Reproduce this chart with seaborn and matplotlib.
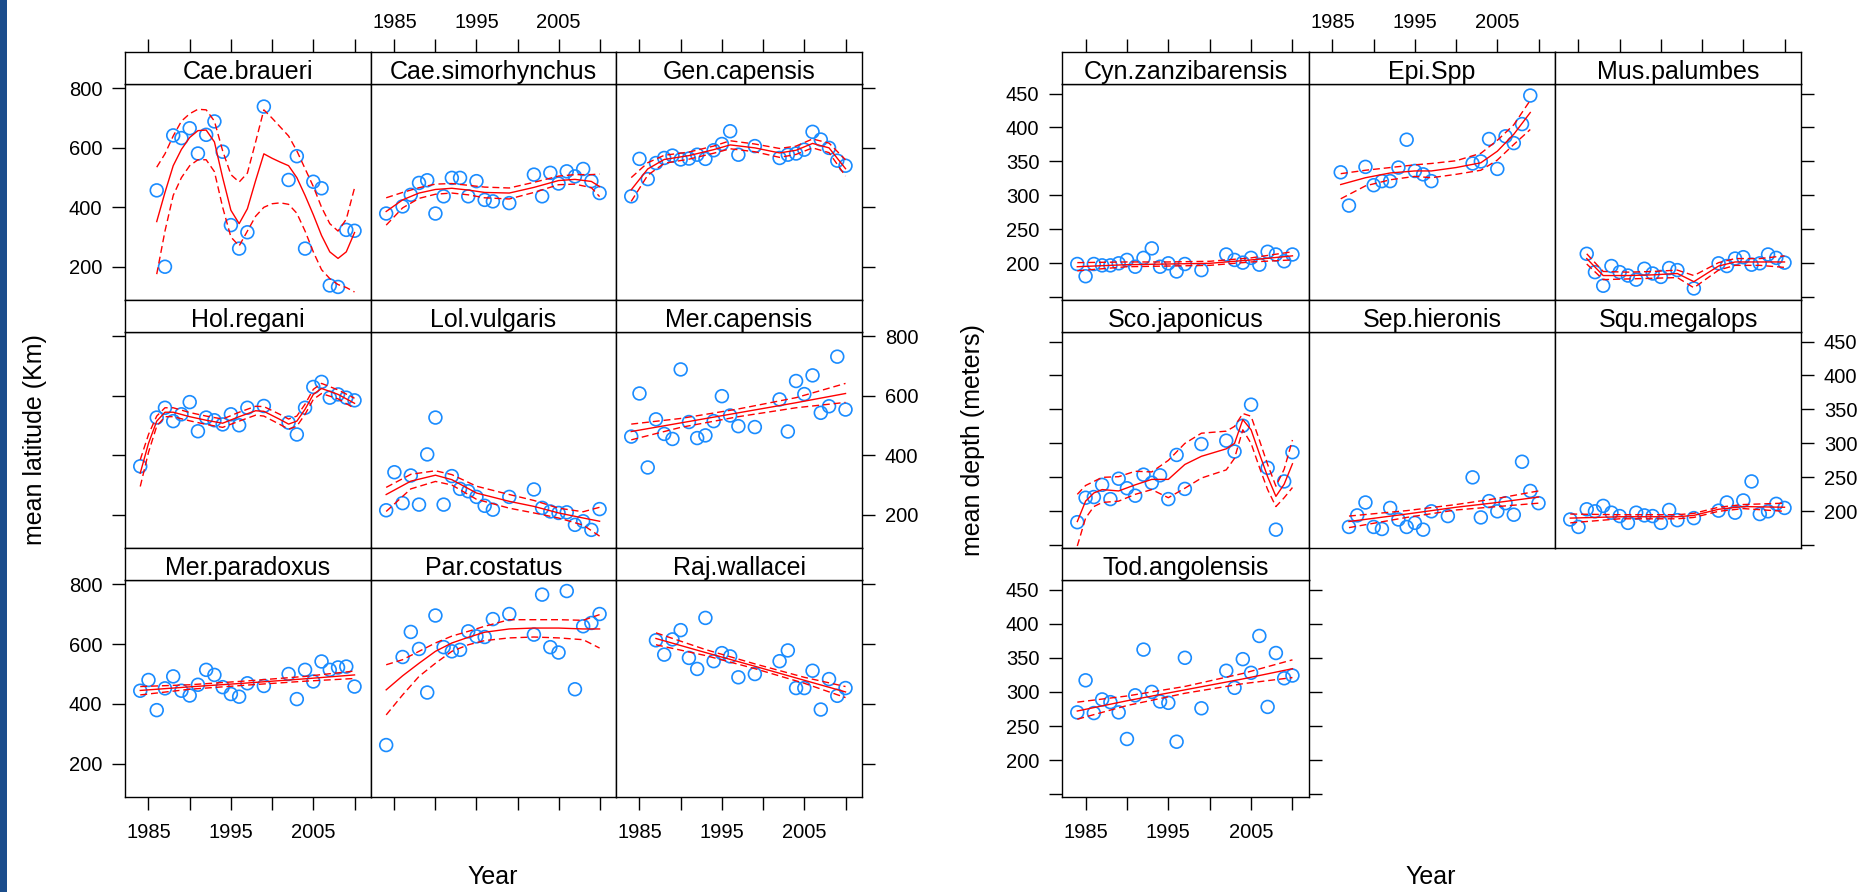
import numpy as np
import matplotlib
matplotlib.use("Agg")
import matplotlib.pyplot as plt
from matplotlib.patches import Rectangle
import seaborn as sns

nan = np.nan

# ---------------- data ----------------
years = [1984, 1985, 1986, 1987, 1988, 1989, 1990, 1991, 1992, 1993, 1994,
         1995, 1996, 1997, 1999, 2002, 2003, 2004, 2005, 2006, 2007, 2008,
         2009, 2010]

# mean latitude (Km)
cae_braueri = [nan, nan, 457, 200, 642, 633, 666, 581, 644, 689, 587, 340, 261, 316, 739, 492, 572, 261, 486, 464, 137, 132, 324, 321]
cae_braueri_fit_yr = [1986, 1987, 1988, 1989, 1990, 1991, 1992, 1993, 1994, 1995, 1996, 1997, 1998, 1999, 2000, 2001, 2002, 2003, 2004, 2005, 2006, 2007, 2008, 2009, 2010]
cae_braueri_fit = [352, 450, 540, 595, 635, 658, 660, 620, 500, 390, 345, 395, 490, 580, 565, 552, 540, 500, 440, 375, 305, 250, 228, 250, 315]
cae_braueri_hi = [535, 580, 640, 690, 715, 730, 728, 690, 590, 510, 485, 515, 620, 728, 700, 670, 640, 590, 530, 470, 400, 345, 320, 360, 465]
cae_braueri_lo = [175, 320, 440, 500, 540, 560, 560, 520, 400, 300, 270, 320, 370, 400, 412, 415, 410, 380, 320, 250, 190, 160, 140, 130, 115]

cae_simorhynchus = [379, nan, 403, 442, 482, 491, 379, 437, 499, 499, 437, 488, 425, 420, 414, 510, 437, 516, 480, 521, 504, 529, 488, 448]
cae_simorhynchus_fit_yr = [1984, 1986, 1988, 1990, 1992, 1994, 1996, 1999, 2002, 2005, 2007, 2009, 2010]
cae_simorhynchus_fit = [386, 425, 448, 460, 464, 458, 450, 448, 467, 490, 494, 487, 470]
cae_simorhynchus_hi = [432, 450, 466, 478, 480, 474, 468, 465, 484, 505, 510, 510, 512]
cae_simorhynchus_lo = [340, 398, 430, 444, 448, 442, 432, 428, 450, 476, 478, 466, 436]

gen_capensis = [437, 563, 495, 549, 566, 574, 561, 564, 577, 563, 592, 613, 656, 577, 606, 566, 577, 581, 594, 654, 628, 600, 557, 540]
gen_capensis_fit_yr = [1984, 1986, 1988, 1991, 1994, 1996, 1999, 2002, 2004, 2006, 2008, 2010]
gen_capensis_fit = [459, 529, 561, 574, 594, 610, 600, 583, 592, 615, 600, 530]
gen_capensis_hi = [500, 550, 575, 586, 606, 624, 613, 598, 606, 630, 616, 560]
gen_capensis_lo = [420, 508, 548, 562, 582, 597, 587, 568, 578, 600, 584, 505]

hol_regani = [363, nan, 527, 560, 515, 538, 579, 481, 527, 518, 504, 538, 501, 560, 566, 510, 470, 560, 630, 647, 594, 605, 594, 585]
hol_regani_fit_yr = [1984, 1985, 1986, 1987, 1988, 1990, 1992, 1994, 1996, 1998, 1999, 2001, 2002, 2003, 2004, 2005, 2006, 2008, 2010]
hol_regani_fit = [340, 440, 515, 545, 545, 530, 518, 508, 530, 550, 548, 520, 505, 515, 555, 605, 625, 605, 575]
hol_regani_hi = [385, 470, 532, 560, 560, 544, 532, 522, 545, 565, 564, 537, 522, 532, 572, 622, 642, 620, 592]
hol_regani_lo = [295, 410, 498, 530, 530, 516, 504, 494, 515, 535, 532, 503, 488, 498, 538, 588, 608, 590, 558]

lol_vulgaris = [215, 343, 239, 332, 234, 403, 527, 234, 330, 287, 279, 260, 230, 217, 260, 285, 223, 211, 206, 208, 166, 178, 149, 219]
lol_vulgaris_fit_yr = [1984, 1987, 1990, 1992, 1995, 1999, 2002, 2005, 2008, 2010]
lol_vulgaris_fit = [268, 313, 333, 318, 273, 245, 228, 206, 189, 178]
lol_vulgaris_hi = [292, 336, 348, 335, 296, 268, 248, 222, 210, 225]
lol_vulgaris_lo = [211, 287, 312, 300, 252, 222, 206, 189, 165, 128]

mer_capensis = [463, 608, 359, 521, 472, 455, 689, 512, 458, 467, 515, 599, 534, 498, 495, 588, 480, 650, 606, 669, 543, 565, 732, 554]
mer_capensis_fit_yr = [1984, 1990, 1997, 2004, 2010]
mer_capensis_fit = [480, 509, 543, 577, 608]
mer_capensis_hi = [505, 524, 556, 594, 642]
mer_capensis_lo = [452, 494, 530, 560, 578]

mer_paradoxus = [444, 480, 379, 452, 492, 444, 428, 464, 514, 497, 456, 433, 424, 469, 460, 500, 416, 514, 475, 542, 514, 522, 525, 458]
mer_paradoxus_fit_yr = [1984, 1990, 1997, 2004, 2010]
mer_paradoxus_fit = [445, 457, 470, 484, 497]
mer_paradoxus_hi = [458, 464, 477, 492, 510]
mer_paradoxus_lo = [430, 449, 463, 476, 485]

par_costatus = [262, nan, 557, 641, 584, 438, 696, 590, 576, 581, 643, 626, 624, 684, 701, 632, 766, 590, 572, 778, 449, 660, 671, 701]
par_costatus_fit_yr = [1984, 1986, 1988, 1990, 1992, 1994, 1996, 1999, 2002, 2005, 2008, 2010]
par_costatus_fit = [447, 494, 536, 576, 604, 623, 640, 651, 654, 654, 651, 651]
par_costatus_hi = [531, 548, 576, 604, 627, 643, 660, 682, 682, 682, 680, 699]
par_costatus_lo = [363, 430, 492, 536, 576, 598, 612, 621, 624, 621, 615, 587]

raj_wallacei = [nan, nan, nan, 613, 565, 616, 647, 554, 517, 688, 543, 570, 559, 489, 500, 543, 579, 453, 453, 511, 381, 483, 427, 453]
raj_wallacei_fit_yr = [1987, 1993, 1999, 2005, 2010]
raj_wallacei_fit = [619, 572, 526, 479, 440]
raj_wallacei_hi = [638, 582, 534, 489, 458]
raj_wallacei_lo = [598, 562, 518, 469, 421]

# mean depth (meters)
cyn_zanzibarensis = [199, 181, 199, 197, 197, 200, 205, 195, 208, 222, 195, 200, 188, 199, 190, 213, 205, 201, 208, 198, 217, 213, 203, 213]
cyn_zanzibarensis_fit_yr = [1984, 1990, 1995, 2000, 2005, 2010]
cyn_zanzibarensis_fit = [195, 198, 199, 200, 205, 211]
cyn_zanzibarensis_hi = [201, 202, 202, 203, 208, 217]
cyn_zanzibarensis_lo = [189, 195, 196, 197, 202, 205]

epi_spp = [nan, nan, 334, 285, nan, 342, 315, 321, 321, 341, 382, 336, 331, 321, nan, 347, 350, 383, 339, 387, 377, 405, 447, nan]
epi_spp_fit_yr = [1986, 1989, 1992, 1995, 1997, 2000, 2003, 2005, 2007, 2009]
epi_spp_fit = [316, 326, 333, 336, 336, 341, 348, 365, 390, 422]
epi_spp_hi = [332, 337, 341, 345, 347, 351, 362, 381, 404, 440]
epi_spp_lo = [295, 314, 323, 328, 326, 331, 337, 352, 375, 397]

mus_palumbes = [nan, nan, 214, 187, 167, 196, 187, 182, 176, 192, 185, 180, 193, 190, 163, 200, 196, 207, 209, 198, 200, 213, 208, 201]
mus_palumbes_fit_yr = [1986, 1988, 1991, 1994, 1997, 1999, 2002, 2004, 2007, 2010]
mus_palumbes_fit = [207, 182, 182, 183, 185, 173, 196, 202, 202, 202]
mus_palumbes_hi = [214, 188, 187, 188, 190, 182, 201, 207, 207, 211]
mus_palumbes_lo = [199, 176, 177, 178, 179, 164, 190, 197, 197, 194]

sco_japonicus = [184, 220, 221, 239, 218, 248, 234, 223, 254, 242, 253, 218, 283, 233, 299, 304, 288, 326, 357, nan, 264, 173, 244, 287]
sco_japonicus_fit_yr = [1984, 1985, 1986, 1987, 1989, 1991, 1993, 1995, 1997, 1999, 2002, 2003, 2004, 2005, 2006, 2007, 2008, 2009, 2010]
sco_japonicus_fit = [185, 215, 227, 232, 230, 239, 247, 247, 269, 281, 292, 300, 335, 320, 285, 251, 222, 240, 270]
sco_japonicus_hi = [225, 238, 244, 250, 251, 259, 258, 275, 300, 315, 318, 325, 344, 340, 305, 269, 237, 262, 305]
sco_japonicus_lo = [149, 190, 207, 213, 215, 225, 232, 220, 234, 249, 261, 278, 320, 300, 265, 232, 207, 220, 235]

sep_hieronis = [nan, nan, nan, 177, 194, 213, 177, 174, 205, 188, 177, 183, 173, 200, 193, 250, 191, 215, 200, 212, 195, 273, 230, 212]
sep_hieronis_fit_yr = [1987, 1994, 2000, 2005, 2010]
sep_hieronis_fit = [185, 196, 206, 213, 221]
sep_hieronis_hi = [193, 201, 210, 219, 230]
sep_hieronis_lo = [176, 191, 202, 207, 212]

squ_megalops = [188, 177, 203, 200, 208, 198, 193, 183, 198, 194, 193, 183, 202, 187, 190, 201, 213, 198, 216, 244, 196, 200, 211, 205]
squ_megalops_fit_yr = [1984, 1990, 1997, 1999, 2002, 2005, 2010]
squ_megalops_fit = [190, 192, 192, 194, 203, 207, 206]
squ_megalops_hi = [196, 195, 195, 197, 206, 210, 212]
squ_megalops_lo = [183, 189, 189, 191, 200, 204, 200]

tod_angolensis = [270, 317, 269, 289, 285, 270, 231, 295, 362, 300, 286, 284, 227, 350, 276, 331, 306, 348, 328, 382, 278, 357, 320, 324]
tod_angolensis_fit_yr = [1984, 1990, 1997, 2004, 2010]
tod_angolensis_fit = [272, 287, 303, 319, 334]
tod_angolensis_hi = [285, 294, 308, 327, 347]
tod_angolensis_lo = [260, 280, 298, 312, 321]

x_ticks = [1985, 1990, 1995, 2000, 2005, 2010]
x_tick_labels = ["1985", "", "1995", "", "2005", ""]
lat_ticks = [200, 400, 600, 800]
lat_tick_labels = ["200", "400", "600", "800"]
depth_ticks = [150, 200, 250, 300, 350, 400, 450]
depth_tick_labels = ["", "200", "250", "300", "350", "400", "450"]

lat_panels = [
    [("Cae.braueri", cae_braueri, cae_braueri_fit_yr, cae_braueri_fit, cae_braueri_lo, cae_braueri_hi),
     ("Cae.simorhynchus", cae_simorhynchus, cae_simorhynchus_fit_yr, cae_simorhynchus_fit, cae_simorhynchus_lo, cae_simorhynchus_hi),
     ("Gen.capensis", gen_capensis, gen_capensis_fit_yr, gen_capensis_fit, gen_capensis_lo, gen_capensis_hi)],
    [("Hol.regani", hol_regani, hol_regani_fit_yr, hol_regani_fit, hol_regani_lo, hol_regani_hi),
     ("Lol.vulgaris", lol_vulgaris, lol_vulgaris_fit_yr, lol_vulgaris_fit, lol_vulgaris_lo, lol_vulgaris_hi),
     ("Mer.capensis", mer_capensis, mer_capensis_fit_yr, mer_capensis_fit, mer_capensis_lo, mer_capensis_hi)],
    [("Mer.paradoxus", mer_paradoxus, mer_paradoxus_fit_yr, mer_paradoxus_fit, mer_paradoxus_lo, mer_paradoxus_hi),
     ("Par.costatus", par_costatus, par_costatus_fit_yr, par_costatus_fit, par_costatus_lo, par_costatus_hi),
     ("Raj.wallacei", raj_wallacei, raj_wallacei_fit_yr, raj_wallacei_fit, raj_wallacei_lo, raj_wallacei_hi)],
]
depth_panels = [
    [("Cyn.zanzibarensis", cyn_zanzibarensis, cyn_zanzibarensis_fit_yr, cyn_zanzibarensis_fit, cyn_zanzibarensis_lo, cyn_zanzibarensis_hi),
     ("Epi.Spp", epi_spp, epi_spp_fit_yr, epi_spp_fit, epi_spp_lo, epi_spp_hi),
     ("Mus.palumbes", mus_palumbes, mus_palumbes_fit_yr, mus_palumbes_fit, mus_palumbes_lo, mus_palumbes_hi)],
    [("Sco.japonicus", sco_japonicus, sco_japonicus_fit_yr, sco_japonicus_fit, sco_japonicus_lo, sco_japonicus_hi),
     ("Sep.hieronis", sep_hieronis, sep_hieronis_fit_yr, sep_hieronis_fit, sep_hieronis_lo, sep_hieronis_hi),
     ("Squ.megalops", squ_megalops, squ_megalops_fit_yr, squ_megalops_fit, squ_megalops_lo, squ_megalops_hi)],
    [("Tod.angolensis", tod_angolensis, tod_angolensis_fit_yr, tod_angolensis_fit, tod_angolensis_lo, tod_angolensis_hi)],
]

# ---------------- style ----------------
plt.rcParams["font.family"] = ["Liberation Sans", "DejaVu Sans"]
BLUE = "#1a8cff"
RED = "#ff0000"
W, H = 1876, 892
XLIM = (1982.15, 2012.0)
LAT_YLIM = (88, 815)
DEP_YLIM = (146, 464)
TICK_LEN = 9.4
FRAME_LW = 1.0
TICK_FS = 14.5
STRIP_FS = 18
LABEL_FS = 18

ROWS = [(52, 84, 300), (300, 332, 548), (548, 580, 797)]
LEFT_COLS = [(125, 371), (371, 616), (616, 862)]
RIGHT_COLS = [(1062, 1309), (1309, 1555), (1555, 1801)]

fig = plt.figure(figsize=(W / 100, H / 100), dpi=100)
fig.patch.set_facecolor("white")
fig.add_artist(Rectangle((0, 0), 7 / W, 1, transform=fig.transFigure,
                         facecolor="#1b4d8c", edgecolor="none"))


def add_ax(x0, y0, x1, y1):
    return fig.add_axes([x0 / W, 1 - y1 / H, (x1 - x0) / W, (y1 - y0) / H])


def frame(ax):
    for s in ax.spines.values():
        s.set_linewidth(FRAME_LW)
        s.set_color("black")


def draw_panel(ax, vals, fyr, fit, lo, hi, ylim):
    sns.scatterplot(x=years, y=vals, ax=ax, s=85, facecolor="none",
                    edgecolor=BLUE, linewidth=1.2, zorder=3)
    sns.lineplot(x=fyr, y=fit, ax=ax, color=RED, linewidth=1.0,
                 estimator=None, sort=False, zorder=4)
    for band in (lo, hi):
        sns.lineplot(x=fyr, y=band, ax=ax, color=RED, linewidth=1.0,
                     linestyle=(0, (5, 2.8)), estimator=None, sort=False, zorder=4)
    ax.set_xlim(*XLIM)
    ax.set_ylim(*ylim)
    ax.set_xlabel("")
    ax.set_ylabel("")
    frame(ax)


def draw_grid(panels, cols, ylim, yticks, ylabels, rules):
    for r, row in enumerate(panels):
        st, pt, pb = ROWS[r]
        for c, (name, vals, fyr, fit, lo, hi) in enumerate(row):
            x0, x1 = cols[c]
            ax = add_ax(x0, pt, x1, pb)
            draw_panel(ax, vals, fyr, fit, lo, hi, ylim)
            rl = rules(r, c)
            ax.set_xticks(x_ticks, x_tick_labels)
            ax.set_yticks(yticks, ylabels)
            ax.tick_params(direction="out", length=TICK_LEN, width=FRAME_LW,
                           labelsize=TICK_FS, colors="black")
            ax.tick_params(axis="y", pad=7)
            ax.tick_params(axis="x", pad=9)
            ax.tick_params(top=False, labeltop=False,
                           bottom=rl["bottom"], labelbottom=rl["lbottom"],
                           left=rl["left"], labelleft=rl["lleft"],
                           right=rl["right"], labelright=rl["lright"])
            # strip
            sax = add_ax(x0, st, x1, pt)
            sax.set_xlim(*XLIM)
            sax.set_ylim(0, 1)
            sax.set_yticks([])
            frame(sax)
            sax.text(0.5, 0.17, name, transform=sax.transAxes, ha="center",
                     va="baseline", fontsize=STRIP_FS, color="black")
            if r == 0:
                sax.set_xticks(x_ticks, x_tick_labels)
                sax.tick_params(direction="out", length=TICK_LEN, width=FRAME_LW,
                                labelsize=TICK_FS, pad=5, top=True, labeltop=(c == 1),
                                bottom=False, labelbottom=False)
            else:
                sax.set_xticks([])


def lat_rules(r, c):
    return dict(left=(c == 0), lleft=(c == 0 and r in (0, 2)),
                right=(c == 2), lright=(c == 2 and r == 1),
                bottom=(r == 2), lbottom=(r == 2 and c in (0, 2)))


def depth_rules(r, c):
    return dict(left=(c == 0), lleft=(c == 0 and r in (0, 2)),
                right=(c == 2 or r == 2), lright=(c == 2 and r == 1),
                bottom=(r == 2), lbottom=(r == 2))


draw_grid(lat_panels, LEFT_COLS, LAT_YLIM, lat_ticks, lat_tick_labels, lat_rules)
draw_grid(depth_panels, RIGHT_COLS, DEP_YLIM, depth_ticks, depth_tick_labels, depth_rules)

fig.text(35 / W, 1 - 440 / H, "mean latitude (Km)", rotation=90, ha="center",
         va="center", fontsize=LABEL_FS)
fig.text(973 / W, 1 - 440 / H, "mean depth (meters)", rotation=90, ha="center",
         va="center", fontsize=LABEL_FS)
fig.text(493 / W, 1 - 877 / H, "Year", ha="center", va="center", fontsize=LABEL_FS)
fig.text(1431 / W, 1 - 877 / H, "Year", ha="center", va="center", fontsize=LABEL_FS)

fig.savefig("out.png", dpi=100, facecolor="white")
